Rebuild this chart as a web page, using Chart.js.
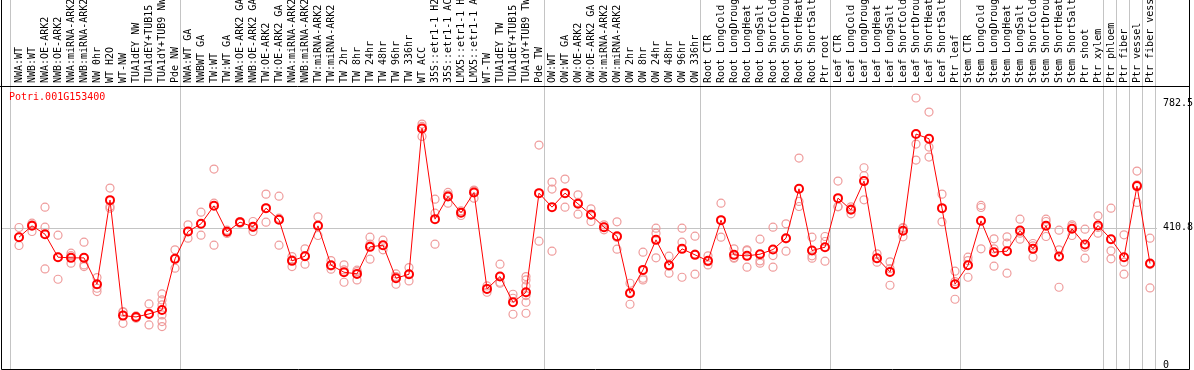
<!DOCTYPE html>
<html>
<head>
<meta charset="utf-8">
<script src="https://cdn.jsdelivr.net/npm/chart.js@4"></script>
<style>
  body { margin: 0; background: #fff; }
  canvas { display: block; }
</style>
</head>
<body>
<canvas id="exprChart" width="1194" height="370"></canvas>
<script>
Chart.defaults.font.family = '"DejaVu Sans Mono", monospace';
Chart.defaults.font.size = 10;
Chart.defaults.color = '#000';

const geneName = 'Potri.001G153400';

const samples = [
  'NWA:WT', 'NWB:WT', 'NWA:OE-ARK2', 'NWB:OE-ARK2', 'NWA:miRNA-ARK2', 'NWB:miRNA-ARK2',
  'NW 0hr', 'WT H2O', 'WT-NW', 'TUA1dEY NW', 'TUA1dEY+TUB15 NW', 'TUA1dY+TUB9 NW', 'Pde NW',
  'NWA:WT GA', 'NWBWT GA', 'TW:WT', 'TW:WT GA', 'NWA:OE-ARK2 GA', 'NWB:OE-ARK2 GA',
  'TW:OE-ARK2', 'TW:OE-ARK2 GA', 'NWA:miRNA-ARK2 GA', 'NWB:miRNA-ARK2 GA', 'TW:miRNA-ARK2',
  'TW:miRNA-ARK2 GA', 'TW 2hr', 'TW 8hr', 'TW 24hr', 'TW 48hr', 'TW 96hr', 'TW 336hr',
  'WT ACC', '35S::etr1-1 H2O', '35S::etr1-1 ACC', 'LMX5::etr1-1 H2O', 'LMX5::etr1-1 ACC',
  'WT-TW', 'TUA1dEY TW', 'TUA1dEY+TUB15 TW', 'TUA1dY+TUB9 TW', 'Pde TW',
  'OW:WT', 'OW:WT GA', 'OW:OE-ARK2', 'OW:OE-ARK2 GA', 'OW:miRNA-ARK2', 'OW:miRNA-ARK2 GA',
  'OW 2hr', 'OW 8hr', 'OW 24hr', 'OW 48hr', 'OW 96hr', 'OW 336hr',
  'Root CTR', 'Root LongCold', 'Root LongDrought', 'Root LongHeat', 'Root LongSalt',
  'Root ShortCold', 'Root ShortDrought', 'Root ShortHeat', 'Root ShortSalt', 'Ptr root',
  'Leaf CTR', 'Leaf LongCold', 'Leaf LongDrought', 'Leaf LongHeat', 'Leaf LongSalt',
  'Leaf ShortCold', 'Leaf ShortDrought', 'Leaf ShortHeat', 'Leaf ShortSalt', 'Ptr leaf',
  'Stem CTR', 'Stem LongCold', 'Stem LongDrought', 'Stem LongHeat', 'Stem LongSalt',
  'Stem ShortCold', 'Stem ShortDrought', 'Stem ShortHeat', 'Stem ShortSalt', 'Ptr shoot',
  'Ptr xylem', 'Ptr phloem', 'Ptr fiber', 'Ptr vessel', 'Ptr fiber vessel'
];

// index of the last sample in each experiment block
const groupEnds = [12, 40, 52, 62, 72, 83, 84, 85, 86, 87];

const yTicks = [0, 410.8, 782.5];

const meanExpr = [
  383, 417, 392, 323, 321, 321, 242, 494, 148, 144, 153, 165, 318,
  400, 423, 477, 399, 428, 414, 470, 435, 312, 326, 417, 299, 278, 273, 354, 359, 260, 272,
  709, 437, 505, 456, 517, 228, 265, 188, 218, 515,
  473, 515, 483, 450, 413, 386, 215, 285, 375, 299, 348, 330,
  312, 434, 330, 327, 332, 346, 380, 528, 343, 353,
  500, 465, 551, 320, 279, 402, 692, 678, 470, 242,
  299, 432, 338, 341, 403, 348, 417, 325, 408, 361, 418, 377, 323, 536, 304
];

const rep1 = [
  412, 425, 473, 389, 335, 368, 262, 530, 158, 147, 183, 213, 345,
  420, 458, 587, 404, 430, 430, 512, 506, 325, 348, 444, 313, 300, 284, 383, 374, 273, 292,
  722, 497, 517, 462, 524, 237, 302, 212, 265, 659,
  548, 557, 510, 468, 420, 429, 245, 338, 410, 326, 410, 386,
  327, 485, 348, 345, 377, 413, 423, 620, 383, 385,
  551, 474, 591, 333, 309, 412, 800, 758, 512, 281,
  323, 478, 378, 384, 437, 364, 437, 404, 420, 407, 447, 470, 390, 581, 380
];

const rep2 = [
  358, 400, 413, 257, 328, 300, 230, 475, 125, 143, 120, 195, 290,
  380, 389, 359, 399, 425, 400, 428, 359, 295, 302, 388, 287, 248, 255, 317, 345, 242, 252,
  715, 362, 485, 448, 500, 218, 248, 152, 255, 371,
  527, 473, 452, 430, 405, 347, 182, 260, 395, 275, 368, 272,
  300, 383, 320, 293, 312, 328, 341, 475, 320, 370,
  475, 453, 567, 308, 239, 384, 662, 653, 429, 250,
  313, 472, 348, 365, 377, 323, 430, 345, 388, 353, 395, 342, 308, 487, 231
];

const rep3 = [
  383, 420, 288, 323, 305, 295, 220, 470, 160, 140, 155, 180, 318,
  400, 423, 485, 394, 428, 412, 470, 440, 315, 328, 419, 297, 285, 280, 362, 358, 265, 272,
  685, 455, 510, 456, 522, 228, 245, 200, 237, 515,
  341, 515, 487, 452, 413, 382, 218, 255, 321, 296, 263, 332,
  310, 434, 322, 343, 305, 293, 378, 490, 327, 311,
  474, 468, 495, 319, 289, 410, 614, 623, 469, 197,
  263, 348, 296, 275, 395, 357, 385, 233, 415, 320, 412, 318, 272, 540, 301
];

// the two TUA1 lines with six replicates
const rep4 = samples.map((s, i) => (i === 11 ? 150 : i === 39 ? 208 : null));
const rep5 = samples.map((s, i) => (i === 11 ? 130 : i === 39 ? 188 : null));
const rep6 = samples.map((s, i) => (i === 11 ? 115 : i === 39 ? 155 : null));

const repColor = '#ef9c9c';

const repDataset = (data) => ({
  data: data,
  showLine: false,
  pointRadius: 4,
  pointBorderWidth: 1.2,
  pointBorderColor: repColor,
  pointBackgroundColor: 'rgba(0,0,0,0)',
  order: 2,
});

const framePlugin = {
  id: 'frame',
  beforeDraw(chart) {
    const { ctx, chartArea, scales } = chart;
    ctx.save();
    ctx.strokeStyle = '#c4c4c4';
    ctx.lineWidth = 1;
    ctx.beginPath();
    const gy = Math.round(scales.y.getPixelForValue(yTicks[1])) + 0.5;
    ctx.moveTo(1, gy);
    ctx.lineTo(chartArea.right + 7, gy);
    const seps = [scales.x.getPixelForValue(0) - 9].concat(
      groupEnds.map((i) => scales.x.getPixelForValue(i) + 5)
    );
    seps.forEach((px) => {
      const sx = Math.round(px) + 0.5;
      ctx.moveTo(sx, 0);
      ctx.lineTo(sx, chartArea.bottom);
    });
    ctx.stroke();
    ctx.restore();
  },
  afterDraw(chart) {
    const { ctx, chartArea } = chart;
    ctx.save();
    ctx.strokeStyle = '#000';
    ctx.lineWidth = 1;
    ctx.beginPath();
    ctx.moveTo(1.5, 0);
    ctx.lineTo(1.5, 369.5);
    ctx.lineTo(1189.5, 369.5);
    ctx.lineTo(1189.5, 0);
    ctx.moveTo(0, chartArea.top + 0.5);
    ctx.lineTo(1190, chartArea.top + 0.5);
    ctx.stroke();
    ctx.fillStyle = '#ff0000';
    ctx.font = '10px "DejaVu Sans Mono"';
    ctx.textBaseline = 'middle';
    ctx.fillText(geneName, 9, chartArea.top + 11);
    ctx.restore();
  },
};

new Chart(document.getElementById('exprChart'), {
  type: 'line',
  data: {
    labels: samples,
    datasets: [
      {
        data: meanExpr,
        borderColor: '#ff0000',
        borderWidth: 1,
        pointRadius: 4,
        pointBorderWidth: 2,
        pointBorderColor: '#ff0000',
        pointBackgroundColor: 'rgba(0,0,0,0)',
        tension: 0,
        order: 1,
      },
      repDataset(rep1),
      repDataset(rep2),
      repDataset(rep3),
      repDataset(rep4),
      repDataset(rep5),
      repDataset(rep6),
    ],
  },
  options: {
    responsive: false,
    animation: false,
    devicePixelRatio: 1,
    layout: { autoPadding: false, padding: { left: 19, right: 0, top: 0, bottom: 1 } },
    plugins: {
      legend: { display: false },
      tooltip: { enabled: false },
    },
    scales: {
      x: {
        position: 'top',
        offset: false,
        grid: { display: false, drawTicks: false },
        border: { display: false },
        ticks: {
          autoSkip: false,
          minRotation: 90,
          maxRotation: 90,
          padding: 3,
          labelOffset: 12,
          color: '#000',
        },
        afterFit: (scale) => { scale.height = 86; },
      },
      y: {
        position: 'right',
        min: -12,
        max: 836,
        grid: { display: false, drawTicks: true, tickLength: 13 },
        border: { display: false },
        afterBuildTicks: (scale) => {
          scale.ticks = yTicks.map((v) => ({ value: v }));
        },
        ticks: {
          padding: 0,
          color: '#000',
          font: { lineHeight: 0.1 },
          callback: (v) => String(v),
        },
        afterFit: (scale) => { scale.width = 44; },
      },
    },
  },
  plugins: [framePlugin],
});
</script>
</body>
</html>
